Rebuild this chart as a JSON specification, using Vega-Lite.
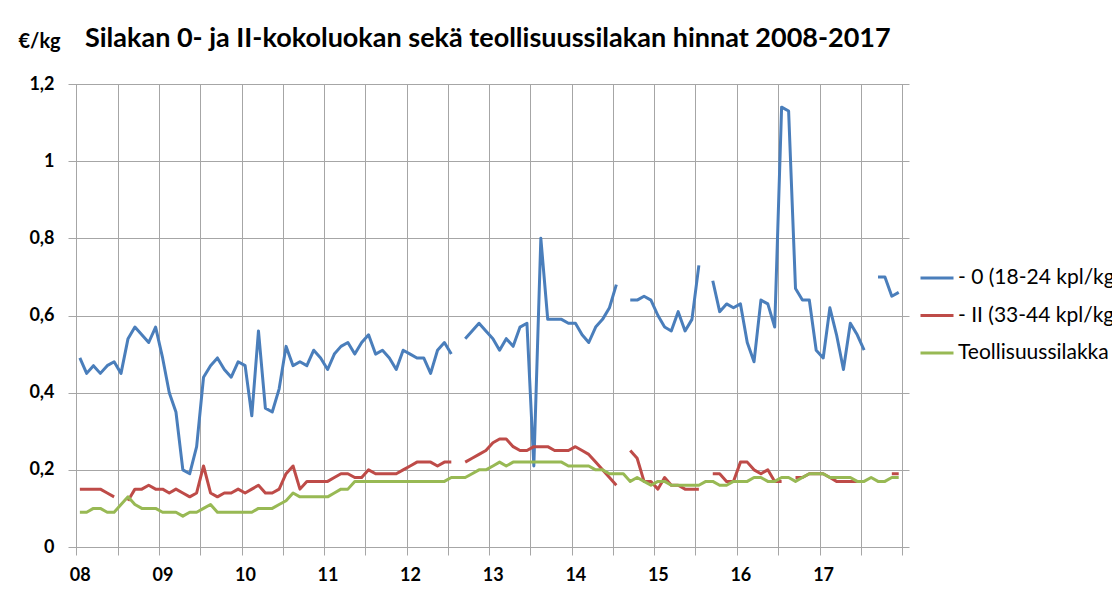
{
  "$schema": "https://vega.github.io/schema/vega-lite/v6.json",
  "width": 841,
  "height": 463,
  "autosize": {"type": "none"},
  "padding": {"left": 68, "top": 84, "right": 203, "bottom": 58},
  "background": "white",
  "config": {
    "font": "Lato",
    "view": {"stroke": null},
    "axis": {"gridColor": "#a6a6a6", "gridWidth": 1, "tickColor": "#a6a6a6", "domain": false}
  },
  "title": {
    "text": "Silakan 0- ja II-kokoluokan sekä teollisuussilakan hinnat 2008-2017",
    "anchor": "start",
    "frame": "group",
    "dx": 17,
    "offset": 0,
    "dy": 22,
    "font": "Lato",
    "fontSize": 27,
    "fontWeight": "bold",
    "color": "#000000"
  },
  "data": {
    "values": [
      {"kk": "2008-01", "nolla": 0.49, "kaksi": 0.15, "teollisuus": 0.09},
      {"kk": "2008-02", "nolla": 0.45, "kaksi": 0.15, "teollisuus": 0.09},
      {"kk": "2008-03", "nolla": 0.47, "kaksi": 0.15, "teollisuus": 0.10},
      {"kk": "2008-04", "nolla": 0.45, "kaksi": 0.15, "teollisuus": 0.10},
      {"kk": "2008-05", "nolla": 0.47, "kaksi": 0.14, "teollisuus": 0.09},
      {"kk": "2008-06", "nolla": 0.48, "kaksi": 0.13, "teollisuus": 0.09},
      {"kk": "2008-07", "nolla": 0.45, "kaksi": null, "teollisuus": 0.11},
      {"kk": "2008-08", "nolla": 0.54, "kaksi": 0.12, "teollisuus": 0.13},
      {"kk": "2008-09", "nolla": 0.57, "kaksi": 0.15, "teollisuus": 0.11},
      {"kk": "2008-10", "nolla": 0.55, "kaksi": 0.15, "teollisuus": 0.10},
      {"kk": "2008-11", "nolla": 0.53, "kaksi": 0.16, "teollisuus": 0.10},
      {"kk": "2008-12", "nolla": 0.57, "kaksi": 0.15, "teollisuus": 0.10},
      {"kk": "2009-01", "nolla": 0.49, "kaksi": 0.15, "teollisuus": 0.09},
      {"kk": "2009-02", "nolla": 0.40, "kaksi": 0.14, "teollisuus": 0.09},
      {"kk": "2009-03", "nolla": 0.35, "kaksi": 0.15, "teollisuus": 0.09},
      {"kk": "2009-04", "nolla": 0.20, "kaksi": 0.14, "teollisuus": 0.08},
      {"kk": "2009-05", "nolla": 0.19, "kaksi": 0.13, "teollisuus": 0.09},
      {"kk": "2009-06", "nolla": 0.26, "kaksi": 0.14, "teollisuus": 0.09},
      {"kk": "2009-07", "nolla": 0.44, "kaksi": 0.21, "teollisuus": 0.10},
      {"kk": "2009-08", "nolla": 0.47, "kaksi": 0.14, "teollisuus": 0.11},
      {"kk": "2009-09", "nolla": 0.49, "kaksi": 0.13, "teollisuus": 0.09},
      {"kk": "2009-10", "nolla": 0.46, "kaksi": 0.14, "teollisuus": 0.09},
      {"kk": "2009-11", "nolla": 0.44, "kaksi": 0.14, "teollisuus": 0.09},
      {"kk": "2009-12", "nolla": 0.48, "kaksi": 0.15, "teollisuus": 0.09},
      {"kk": "2010-01", "nolla": 0.47, "kaksi": 0.14, "teollisuus": 0.09},
      {"kk": "2010-02", "nolla": 0.34, "kaksi": 0.15, "teollisuus": 0.09},
      {"kk": "2010-03", "nolla": 0.56, "kaksi": 0.16, "teollisuus": 0.10},
      {"kk": "2010-04", "nolla": 0.36, "kaksi": 0.14, "teollisuus": 0.10},
      {"kk": "2010-05", "nolla": 0.35, "kaksi": 0.14, "teollisuus": 0.10},
      {"kk": "2010-06", "nolla": 0.41, "kaksi": 0.15, "teollisuus": 0.11},
      {"kk": "2010-07", "nolla": 0.52, "kaksi": 0.19, "teollisuus": 0.12},
      {"kk": "2010-08", "nolla": 0.47, "kaksi": 0.21, "teollisuus": 0.14},
      {"kk": "2010-09", "nolla": 0.48, "kaksi": 0.15, "teollisuus": 0.13},
      {"kk": "2010-10", "nolla": 0.47, "kaksi": 0.17, "teollisuus": 0.13},
      {"kk": "2010-11", "nolla": 0.51, "kaksi": 0.17, "teollisuus": 0.13},
      {"kk": "2010-12", "nolla": 0.49, "kaksi": 0.17, "teollisuus": 0.13},
      {"kk": "2011-01", "nolla": 0.46, "kaksi": 0.17, "teollisuus": 0.13},
      {"kk": "2011-02", "nolla": 0.50, "kaksi": 0.18, "teollisuus": 0.14},
      {"kk": "2011-03", "nolla": 0.52, "kaksi": 0.19, "teollisuus": 0.15},
      {"kk": "2011-04", "nolla": 0.53, "kaksi": 0.19, "teollisuus": 0.15},
      {"kk": "2011-05", "nolla": 0.50, "kaksi": 0.18, "teollisuus": 0.17},
      {"kk": "2011-06", "nolla": 0.53, "kaksi": 0.18, "teollisuus": 0.17},
      {"kk": "2011-07", "nolla": 0.55, "kaksi": 0.20, "teollisuus": 0.17},
      {"kk": "2011-08", "nolla": 0.50, "kaksi": 0.19, "teollisuus": 0.17},
      {"kk": "2011-09", "nolla": 0.51, "kaksi": 0.19, "teollisuus": 0.17},
      {"kk": "2011-10", "nolla": 0.49, "kaksi": 0.19, "teollisuus": 0.17},
      {"kk": "2011-11", "nolla": 0.46, "kaksi": 0.19, "teollisuus": 0.17},
      {"kk": "2011-12", "nolla": 0.51, "kaksi": 0.20, "teollisuus": 0.17},
      {"kk": "2012-01", "nolla": 0.50, "kaksi": 0.21, "teollisuus": 0.17},
      {"kk": "2012-02", "nolla": 0.49, "kaksi": 0.22, "teollisuus": 0.17},
      {"kk": "2012-03", "nolla": 0.49, "kaksi": 0.22, "teollisuus": 0.17},
      {"kk": "2012-04", "nolla": 0.45, "kaksi": 0.22, "teollisuus": 0.17},
      {"kk": "2012-05", "nolla": 0.51, "kaksi": 0.21, "teollisuus": 0.17},
      {"kk": "2012-06", "nolla": 0.53, "kaksi": 0.22, "teollisuus": 0.17},
      {"kk": "2012-07", "nolla": 0.50, "kaksi": 0.22, "teollisuus": 0.18},
      {"kk": "2012-08", "nolla": null, "kaksi": null, "teollisuus": 0.18},
      {"kk": "2012-09", "nolla": 0.54, "kaksi": 0.22, "teollisuus": 0.18},
      {"kk": "2012-10", "nolla": 0.56, "kaksi": 0.23, "teollisuus": 0.19},
      {"kk": "2012-11", "nolla": 0.58, "kaksi": 0.24, "teollisuus": 0.20},
      {"kk": "2012-12", "nolla": 0.56, "kaksi": 0.25, "teollisuus": 0.20},
      {"kk": "2013-01", "nolla": 0.54, "kaksi": 0.27, "teollisuus": 0.21},
      {"kk": "2013-02", "nolla": 0.51, "kaksi": 0.28, "teollisuus": 0.22},
      {"kk": "2013-03", "nolla": 0.54, "kaksi": 0.28, "teollisuus": 0.21},
      {"kk": "2013-04", "nolla": 0.52, "kaksi": 0.26, "teollisuus": 0.22},
      {"kk": "2013-05", "nolla": 0.57, "kaksi": 0.25, "teollisuus": 0.22},
      {"kk": "2013-06", "nolla": 0.58, "kaksi": 0.25, "teollisuus": 0.22},
      {"kk": "2013-07", "nolla": 0.21, "kaksi": 0.26, "teollisuus": 0.22},
      {"kk": "2013-08", "nolla": 0.80, "kaksi": 0.26, "teollisuus": 0.22},
      {"kk": "2013-09", "nolla": 0.59, "kaksi": 0.26, "teollisuus": 0.22},
      {"kk": "2013-10", "nolla": 0.59, "kaksi": 0.25, "teollisuus": 0.22},
      {"kk": "2013-11", "nolla": 0.59, "kaksi": 0.25, "teollisuus": 0.22},
      {"kk": "2013-12", "nolla": 0.58, "kaksi": 0.25, "teollisuus": 0.21},
      {"kk": "2014-01", "nolla": 0.58, "kaksi": 0.26, "teollisuus": 0.21},
      {"kk": "2014-02", "nolla": 0.55, "kaksi": 0.25, "teollisuus": 0.21},
      {"kk": "2014-03", "nolla": 0.53, "kaksi": 0.24, "teollisuus": 0.21},
      {"kk": "2014-04", "nolla": 0.57, "kaksi": 0.22, "teollisuus": 0.20},
      {"kk": "2014-05", "nolla": 0.59, "kaksi": 0.20, "teollisuus": 0.20},
      {"kk": "2014-06", "nolla": 0.62, "kaksi": 0.18, "teollisuus": 0.19},
      {"kk": "2014-07", "nolla": 0.68, "kaksi": 0.16, "teollisuus": 0.19},
      {"kk": "2014-08", "nolla": null, "kaksi": null, "teollisuus": 0.19},
      {"kk": "2014-09", "nolla": 0.64, "kaksi": 0.25, "teollisuus": 0.17},
      {"kk": "2014-10", "nolla": 0.64, "kaksi": 0.23, "teollisuus": 0.18},
      {"kk": "2014-11", "nolla": 0.65, "kaksi": 0.17, "teollisuus": 0.17},
      {"kk": "2014-12", "nolla": 0.64, "kaksi": 0.17, "teollisuus": 0.16},
      {"kk": "2015-01", "nolla": 0.60, "kaksi": 0.15, "teollisuus": 0.17},
      {"kk": "2015-02", "nolla": 0.57, "kaksi": 0.18, "teollisuus": 0.17},
      {"kk": "2015-03", "nolla": 0.56, "kaksi": 0.16, "teollisuus": 0.16},
      {"kk": "2015-04", "nolla": 0.61, "kaksi": 0.16, "teollisuus": 0.16},
      {"kk": "2015-05", "nolla": 0.56, "kaksi": 0.15, "teollisuus": 0.16},
      {"kk": "2015-06", "nolla": 0.59, "kaksi": 0.15, "teollisuus": 0.16},
      {"kk": "2015-07", "nolla": 0.73, "kaksi": 0.15, "teollisuus": 0.16},
      {"kk": "2015-08", "nolla": null, "kaksi": null, "teollisuus": 0.17},
      {"kk": "2015-09", "nolla": 0.69, "kaksi": 0.19, "teollisuus": 0.17},
      {"kk": "2015-10", "nolla": 0.61, "kaksi": 0.19, "teollisuus": 0.16},
      {"kk": "2015-11", "nolla": 0.63, "kaksi": 0.17, "teollisuus": 0.16},
      {"kk": "2015-12", "nolla": 0.62, "kaksi": 0.17, "teollisuus": 0.17},
      {"kk": "2016-01", "nolla": 0.63, "kaksi": 0.22, "teollisuus": 0.17},
      {"kk": "2016-02", "nolla": 0.53, "kaksi": 0.22, "teollisuus": 0.17},
      {"kk": "2016-03", "nolla": 0.48, "kaksi": 0.20, "teollisuus": 0.18},
      {"kk": "2016-04", "nolla": 0.64, "kaksi": 0.19, "teollisuus": 0.18},
      {"kk": "2016-05", "nolla": 0.63, "kaksi": 0.20, "teollisuus": 0.17},
      {"kk": "2016-06", "nolla": 0.57, "kaksi": 0.17, "teollisuus": 0.17},
      {"kk": "2016-07", "nolla": 1.14, "kaksi": 0.17, "teollisuus": 0.18},
      {"kk": "2016-08", "nolla": 1.13, "kaksi": null, "teollisuus": 0.18},
      {"kk": "2016-09", "nolla": 0.67, "kaksi": 0.18, "teollisuus": 0.17},
      {"kk": "2016-10", "nolla": 0.64, "kaksi": 0.18, "teollisuus": 0.18},
      {"kk": "2016-11", "nolla": 0.64, "kaksi": 0.19, "teollisuus": 0.19},
      {"kk": "2016-12", "nolla": 0.51, "kaksi": 0.19, "teollisuus": 0.19},
      {"kk": "2017-01", "nolla": 0.49, "kaksi": 0.19, "teollisuus": 0.19},
      {"kk": "2017-02", "nolla": 0.62, "kaksi": 0.18, "teollisuus": 0.18},
      {"kk": "2017-03", "nolla": 0.55, "kaksi": 0.17, "teollisuus": 0.18},
      {"kk": "2017-04", "nolla": 0.46, "kaksi": 0.17, "teollisuus": 0.18},
      {"kk": "2017-05", "nolla": 0.58, "kaksi": 0.17, "teollisuus": 0.18},
      {"kk": "2017-06", "nolla": 0.55, "kaksi": 0.17, "teollisuus": 0.17},
      {"kk": "2017-07", "nolla": 0.51, "kaksi": null, "teollisuus": 0.17},
      {"kk": "2017-08", "nolla": null, "kaksi": null, "teollisuus": 0.18},
      {"kk": "2017-09", "nolla": 0.70, "kaksi": null, "teollisuus": 0.17},
      {"kk": "2017-10", "nolla": 0.70, "kaksi": null, "teollisuus": 0.17},
      {"kk": "2017-11", "nolla": 0.65, "kaksi": 0.19, "teollisuus": 0.18},
      {"kk": "2017-12", "nolla": 0.66, "kaksi": 0.19, "teollisuus": 0.18}
    ]
  },
  "transform": [
    {"fold": ["nolla", "kaksi", "teollisuus"], "as": ["sarja", "hinta"]}
  ],
  "mark": {"type": "line", "strokeWidth": 3, "strokeJoin": "round", "strokeCap": "butt"},
  "encoding": {
    "x": {
      "field": "kk",
      "type": "temporal",
      "timeUnit": "utcyearmonth",
      "bandPosition": 0.5,
      "scale": {
        "type": "utc",
        "domain": [
          {"year": 2007, "month": 11, "date": 25, "utc": true},
          {"year": 2018, "month": 1, "date": 31, "utc": true}
        ],
        "nice": false
      },
      "axis": {
        "title": null,
        "tickCount": {"interval": "month", "step": 6},
        "tickSize": 8,
        "grid": true,
        "labelExpr": "utcFormat(datum.value, '%m') == '01' && utcFormat(datum.value, '%Y') != '2018' ? utcFormat(datum.value, '%y') : ''",
        "labelOffset": 3.4,
        "labelOverlap": false,
        "labelFlush": false,
        "labelFont": "Lato",
        "labelFontSize": 18,
        "labelFontWeight": "bold",
        "labelColor": "#000000",
        "labelPadding": 11
      }
    },
    "y": {
      "field": "hinta",
      "type": "quantitative",
      "scale": {"domain": [0, 1.2], "nice": false},
      "axis": {
        "values": [0, 0.2, 0.4, 0.6, 0.8, 1, 1.2],
        "grid": true,
        "ticks": false,
        "labelExpr": "replace(toString(datum.value), '.', ',')",
        "labelFont": "Lato",
        "labelFontSize": 18,
        "labelFontWeight": "bold",
        "labelColor": "#000000",
        "labelPadding": 14,
        "title": "€/kg",
        "titleAngle": 0,
        "titleAlign": "left",
        "titleBaseline": "alphabetic",
        "titleX": -50,
        "titleY": -37,
        "titleFont": "Lato",
        "titleFontSize": 20,
        "titleFontWeight": "bold",
        "titleColor": "#000000"
      }
    },
    "color": {
      "field": "sarja",
      "type": "nominal",
      "sort": ["nolla", "kaksi", "teollisuus"],
      "scale": {
        "domain": ["nolla", "kaksi", "teollisuus"],
        "range": ["#4a7ebb", "#be4b48", "#98b954"]
      },
      "legend": {
        "title": null,
        "orient": "none",
        "legendX": 851,
        "legendY": 176,
        "padding": 0,
        "symbolType": "stroke",
        "symbolSize": 1089,
        "symbolStrokeWidth": 3,
        "rowPadding": 9.5,
        "labelOffset": 3,
        "labelLimit": 400,
        "labelFont": "Lato",
        "labelFontSize": 21,
        "labelColor": "#000000",
        "labelExpr": "datum.label == 'nolla' ? '- 0 (18-24 kpl/kg)' : datum.label == 'kaksi' ? '- II (33-44 kpl/kg)' : 'Teollisuussilakka'"
      }
    }
  }
}
